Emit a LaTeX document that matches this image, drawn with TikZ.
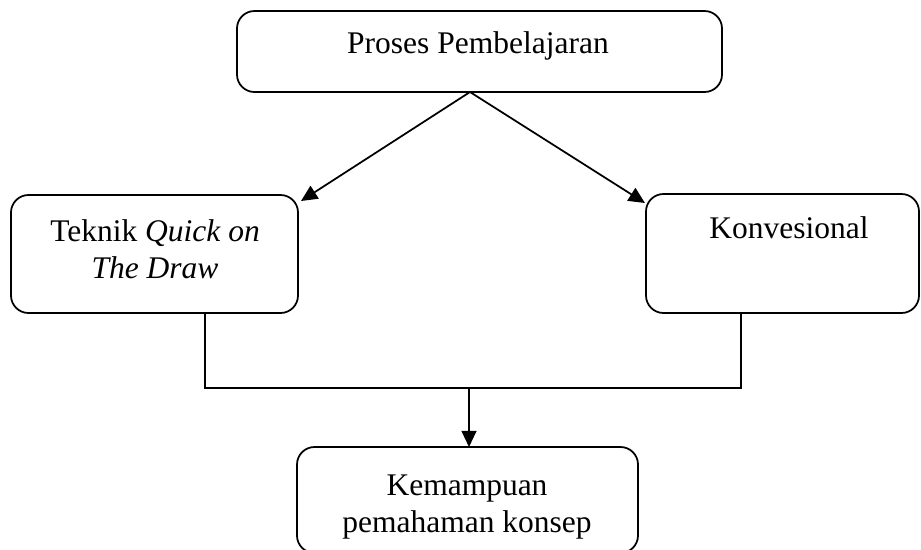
\documentclass[tikz,border=0pt]{standalone}
\usepackage{fontspec}
\setmainfont{Liberation Serif}
\usetikzlibrary{arrows.meta, positioning, calc}

\begin{document}
\begin{tikzpicture}[x=0.4pt, y=-0.4pt,
    box/.style={draw, line width=0.7pt, rounded corners=7pt, inner sep=0pt, outer sep=0pt},
    txt/.style={font=\fontsize{12.6}{14.8}\selectfont, align=center, inner sep=0pt, anchor=base},
    arr/.style={-{Triangle[length=6.5pt, width=6pt]}, line width=0.7pt},
    link/.style={line width=0.7pt}
  ]
  \clip (0,0) rectangle (921,549);
  % boxes
  \node[box, minimum width=485*0.4pt, minimum height=81*0.4pt] (proses) at (479.5,51.5) {};
  \node[box, minimum width=287*0.4pt, minimum height=118*0.4pt] (teknik) at (154.5,254) {};
  \node[box, minimum width=273*0.4pt, minimum height=119*0.4pt] (konv) at (782.5,253.5) {};
  \node[box, minimum width=341*0.4pt, minimum height=106*0.4pt] (paham) at (467.5,500) {};
  % texts
  \node[txt] (prosesText) at (478,53) {Proses Pembelajaran};
  \node[txt] (teknikText) at (155,278) {Teknik \textit{Quick on}\\\textit{The Draw}};
  \node[txt] (konvText) at (789,238) {Konvesional};
  \node[txt] (pahamText) at (467,532) {Kemampuan\\pemahaman konsep};
  % connectors
  \coordinate (apex) at ($(proses.south)+(-9.5,0)$);
  \draw[arr] (apex) -- ($(teknik.north east)+(3,6)$);
  \draw[arr] (apex) -- ($(konv.north west)+(-1,9)$);
  \draw[link] ($(teknik.south west)!0.676!(teknik.south east)$) -- ++(0,75) coordinate (lj)
    -| ($(konv.south west)!0.348!(konv.south east)$);
  \coordinate (split) at (469,388);
  \draw[arr] (split) -- (split |- paham.north);
\end{tikzpicture}
\end{document}
